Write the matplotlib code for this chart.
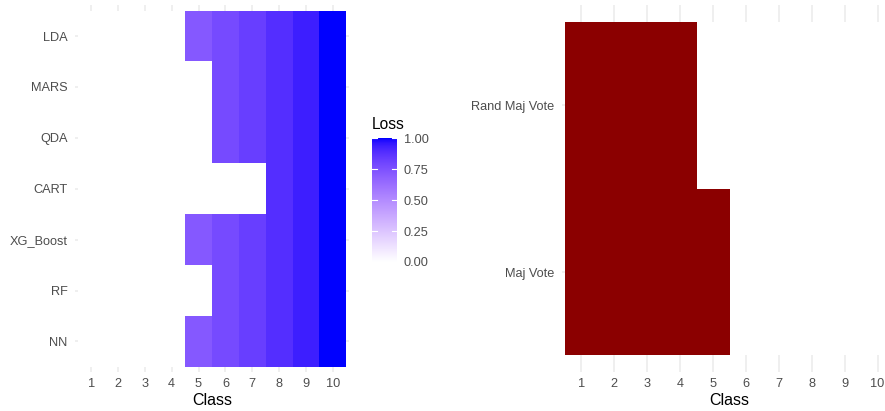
import numpy as np
import matplotlib
matplotlib.use("Agg")
import matplotlib.pyplot as plt
from matplotlib.colors import ListedColormap

plt.rcParams['font.family'] = ['Liberation Sans', 'DejaVu Sans']

# data
models = ["LDA", "MARS", "QDA", "CART", "XG_Boost", "RF", "NN"]
classes = [1, 2, 3, 4, 5, 6, 7, 8, 9, 10]
loss_lda = [0, 0, 0, 0, 0.72, 0.78, 0.83, 0.89, 0.94, 1.0]
loss_mars = [0, 0, 0, 0, 0, 0.78, 0.83, 0.89, 0.94, 1.0]
loss_qda = [0, 0, 0, 0, 0, 0.78, 0.83, 0.89, 0.94, 1.0]
loss_cart = [0, 0, 0, 0, 0, 0, 0, 0.89, 0.94, 1.0]
loss_xgb = [0, 0, 0, 0, 0.72, 0.78, 0.83, 0.89, 0.94, 1.0]
loss_rf = [0, 0, 0, 0, 0, 0.78, 0.83, 0.89, 0.94, 1.0]
loss_nn = [0, 0, 0, 0, 0.72, 0.78, 0.83, 0.89, 0.94, 1.0]

ensembles = ["Rand Maj Vote", "Maj Vote"]
rand_maj_vote = [1, 1, 1, 1, 0, 0, 0, 0, 0, 0]
maj_vote = [1, 1, 1, 1, 1, 0, 0, 0, 0, 0]

legend_breaks = [0.0, 0.25, 0.5, 0.75, 1.0]


# white -> blue gradient interpolated in Lab space (like ggplot)
def srgb_to_lab(rgb):
    rgb = np.asarray(rgb, float)
    lin = np.where(rgb <= 0.04045, rgb / 12.92, ((rgb + 0.055) / 1.055) ** 2.4)
    m = np.array([[0.4124, 0.3576, 0.1805],
                  [0.2126, 0.7152, 0.0722],
                  [0.0193, 0.1192, 0.9505]])
    xyz = m @ lin / np.array([0.95047, 1.0, 1.08883])
    f = np.where(xyz > 0.008856, np.cbrt(xyz), 7.787 * xyz + 16 / 116)
    return np.array([116 * f[1] - 16, 500 * (f[0] - f[1]), 200 * (f[1] - f[2])])


def lab_to_srgb(lab):
    L, a, b = lab
    fy = (L + 16) / 116
    fx = fy + a / 500
    fz = fy - b / 200
    f = np.array([fx, fy, fz])
    xyz = np.where(f ** 3 > 0.008856, f ** 3, (f - 16 / 116) / 7.787)
    xyz = xyz * np.array([0.95047, 1.0, 1.08883])
    minv = np.array([[3.2406, -1.5372, -0.4986],
                     [-0.9689, 1.8758, 0.0415],
                     [0.0557, -0.2040, 1.0570]])
    lin = minv @ xyz
    rgb = np.where(lin <= 0.0031308, 12.92 * lin, 1.055 * np.clip(lin, 0, None) ** (1 / 2.4) - 0.055)
    return np.clip(rgb, 0, 1)


lab_lo = srgb_to_lab([1, 1, 1])
lab_hi = srgb_to_lab([0, 0, 1])
ramp = [lab_to_srgb(lab_lo + t * (lab_hi - lab_lo)) for t in np.linspace(0, 1, 256)]
cmap = ListedColormap(ramp)

grid_col = "#EBEBEB"
text_col = "#4D4D4D"

fig = plt.figure(figsize=(8.85, 4.11), dpi=100)

# left panel
ax1 = fig.add_axes([75 / 885, 1 - 372 / 411, 274 / 885, 366.5 / 411])
mat = np.array([loss_lda, loss_mars, loss_qda, loss_cart, loss_xgb, loss_rf, loss_nn])
xe = np.arange(len(classes) + 1) + 0.5
ye = np.arange(len(models) + 1) + 0.5
ax1.pcolormesh(xe, ye, mat, cmap=cmap, vmin=0, vmax=1)
ax1.set_xlim(0.4, len(classes) + 0.6)
ax1.set_ylim(len(models) + 0.6, 0.4)
ax1.set_xticks(range(1, len(classes) + 1))
ax1.set_xticklabels([str(c) for c in classes])
ax1.set_yticks(range(1, len(models) + 1))
ax1.set_yticklabels(models)

# right panel
ax2 = fig.add_axes([561.7 / 885, 1 - 372 / 411, 335.6 / 885, 366.5 / 411])
mat2 = np.array([rand_maj_vote, maj_vote])
ye2 = np.arange(len(ensembles) + 1) + 0.5
ax2.pcolormesh(xe, ye2, mat2, cmap=ListedColormap(["white", "#8B0000"]), vmin=0, vmax=1)
ax2.set_xlim(0.4, len(classes) + 0.6)
ax2.set_ylim(len(ensembles) + 0.6, 0.4)
ax2.set_xticks(range(1, len(classes) + 1))
ax2.set_xticklabels([str(c) for c in classes])
ax2.set_yticks(range(1, len(ensembles) + 1))
ax2.set_yticklabels(ensembles)

for ax in (ax1, ax2):
    ax.set_axisbelow(True)
    ax.grid(True, color=grid_col, linewidth=1.1)
    for s in ax.spines.values():
        s.set_visible(False)
    ax.tick_params(length=0, labelsize=9.2, labelcolor=text_col)
    ax.tick_params(axis="x", pad=4)
    ax.tick_params(axis="y", pad=5.3)
    ax.set_xlabel("Class", fontsize=11.5, labelpad=2.5)

# colour bar legend
cax = fig.add_axes([372 / 885, 1 - 262 / 411, 25 / 885, 124 / 411])
grad = np.linspace(0, 1, 300).reshape(-1, 1)
cax.imshow(grad, cmap=cmap, aspect="auto", origin="lower", extent=(0, 1, 0, 1))
for b in legend_breaks:
    cax.plot([0, 0.2], [b, b], color="white", linewidth=0.8)
    cax.plot([0.8, 1], [b, b], color="white", linewidth=0.8)
cax.set_xlim(0, 1)
cax.set_ylim(0, 1)
cax.set_xticks([])
cax.yaxis.tick_right()
cax.set_yticks(legend_breaks)
cax.set_yticklabels([f"{b:.2f}" for b in legend_breaks])
cax.tick_params(length=0, labelsize=9.2, labelcolor=text_col, pad=5)
for s in cax.spines.values():
    s.set_visible(False)
fig.text(372 / 885, 1 - 124 / 411, "Loss", fontsize=11.2, va="center", ha="left")

fig.savefig("out.png", dpi=100)
